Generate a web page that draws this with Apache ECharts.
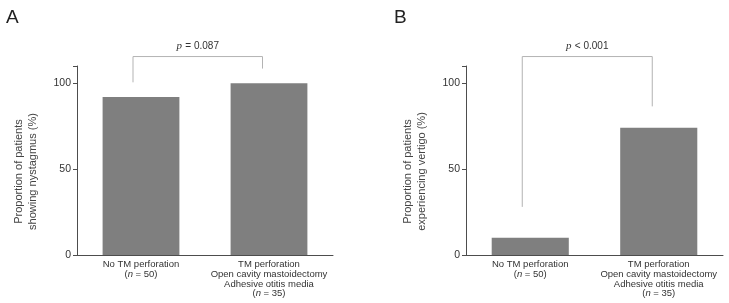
<!DOCTYPE html>
<html>
<head>
<meta charset="utf-8">
<script src="https://cdn.jsdelivr.net/npm/echarts@6/dist/echarts.min.js"></script>
<style>
  html, body { margin: 0; padding: 0; background: #fff; }
  #chart { width: 729px; height: 303px; }
</style>
</head>
<body>
<div id="chart"></div>
<script>
// categories shared by both panels
const categories = ['No TM perforation', 'TM perforation']
const groupSizes = [50, 35]
const extraLines = [[], ['Open cavity mastoidectomy', 'Adhesive otitis media']]

// panel A: nystagmus, panel B: vertigo (%)
const nystagmus = [92, 100]
const vertigo = [10, 74]
const yTicks = [0, 50, 100]

// bracket values: [left leg bottom, right leg bottom, top], p text
const bracketA = [100.5, 108.5, 115.5]
const bracketB = [28, 86.5, 115.5]
const pTextA = '= 0.087'
const pTextB = '< 0.001'

const FONT = '"Liberation Sans", Arial, sans-serif'
const BAR = '#7f7f7f'
const AXIS = '#4d4d4d'
const BRACKET = '#b3b3b3'

const catLabel = (val) => {
  const i = categories.indexOf(val)
  const lines = [val].concat(extraLines[i])
  return lines.map(s => '{t|' + s + '}').join('\n')
    + '\n{t|(}{i|n}{t| = ' + groupSizes[i] + ')}'
}

const xAxisOf = (gi) => ({
  type: 'category'
  , gridIndex: gi
  , data: categories
  , axisTick: { show: false }
  , axisLine: { lineStyle: { color: AXIS, width: 1 } }
  , axisLabel: {
    interval: 0
    , margin: 5
    , formatter: catLabel
    , rich: {
      t: { fontFamily: FONT, fontSize: 9.5, color: '#333', lineHeight: 9.6 }
      , i: { fontFamily: FONT, fontSize: 9.5, color: '#333', fontStyle: 'italic', lineHeight: 9.6 }
    }
  }
})

const yAxisOf = (gi, name) => ({
  type: 'value'
  , gridIndex: gi
  , min: 0
  , max: 110
  , interval: 50
  , splitLine: { show: false }
  , axisLine: { show: true, lineStyle: { color: AXIS, width: 1 } }
  , axisTick: { show: true, length: 4, lineStyle: { color: AXIS } }
  , axisLabel: {
    margin: 6, fontFamily: FONT, fontSize: 10.5, color: '#333'
    , formatter: (v) => yTicks.indexOf(v) >= 0 ? String(v) : ''
  }
  , name: name
  , nameLocation: 'middle'
  , nameGap: 37
  , nameTextStyle: {
    fontFamily: FONT, fontSize: 11, color: '#444', lineHeight: 14
    , padding: [0, 22, 0, 0]
  }
})

const bracketSeries = (gi, b, txt) => ({
  type: 'custom'
  , xAxisIndex: gi
  , yAxisIndex: gi
  , clip: false
  , silent: true
  , data: [[0, 1, b[0], b[1], b[2]]]
  , renderItem: function (params, api) {
    const l = api.coord([api.value(0), api.value(2)])
    const r = api.coord([api.value(1), api.value(3)])
    const t = api.coord([api.value(0), api.value(4)])
    const lx = l[0] - 8
    const rx = r[0] - 6.5
    return {
      type: 'group'
      , children: [{
        type: 'polyline'
        , shape: { points: [[lx, l[1]], [lx, t[1]], [rx, t[1]], [rx, r[1]]] }
        , style: { stroke: BRACKET, lineWidth: 1, fill: null }
      }, {
        type: 'text'
        , x: (lx + rx) / 2
        , y: t[1] - 10.5
        , style: {
          text: '{i|p} {t|' + txt + '}'
          , align: 'center'
          , verticalAlign: 'middle'
          , rich: {
            i: { fontFamily: '"Liberation Serif", serif', fontStyle: 'italic', fontSize: 11, fill: '#333' }
            , t: { fontFamily: FONT, fontSize: 10, fill: '#333' }
          }
        }
      }]
    }
  }
})

const chart = echarts.init(document.getElementById('chart'), null, { renderer: 'canvas' })

chart.setOption({
  animation: false
  , backgroundColor: '#fff'
  , title: [
    { text: 'A', left: 1, top: 3, textStyle: { fontFamily: FONT, fontSize: 19, fontWeight: 'normal', color: '#222' } }
    , { text: 'B', left: 389, top: 3, textStyle: { fontFamily: FONT, fontSize: 19, fontWeight: 'normal', color: '#222' } }
  ]
  , grid: [
    { left: 77, top: 66, width: 256, bottom: 48 }
    , { left: 466, top: 66, width: 257, bottom: 48 }
  ]
  , xAxis: [xAxisOf(0), xAxisOf(1)]
  , yAxis: [
    yAxisOf(0, 'Proportion of patients\nshowing nystagmus (%)')
    , yAxisOf(1, 'Proportion of patients\nexperiencing vertigo (%)')
  ]
  , series: [
    { type: 'bar', xAxisIndex: 0, yAxisIndex: 0, data: nystagmus, barWidth: '60%', itemStyle: { color: BAR } }
    , { type: 'bar', xAxisIndex: 1, yAxisIndex: 1, data: vertigo, barWidth: '60%', itemStyle: { color: BAR } }
    , bracketSeries(0, bracketA, pTextA)
    , bracketSeries(1, bracketB, pTextB)
  ]
})
</script>
</body>
</html>
